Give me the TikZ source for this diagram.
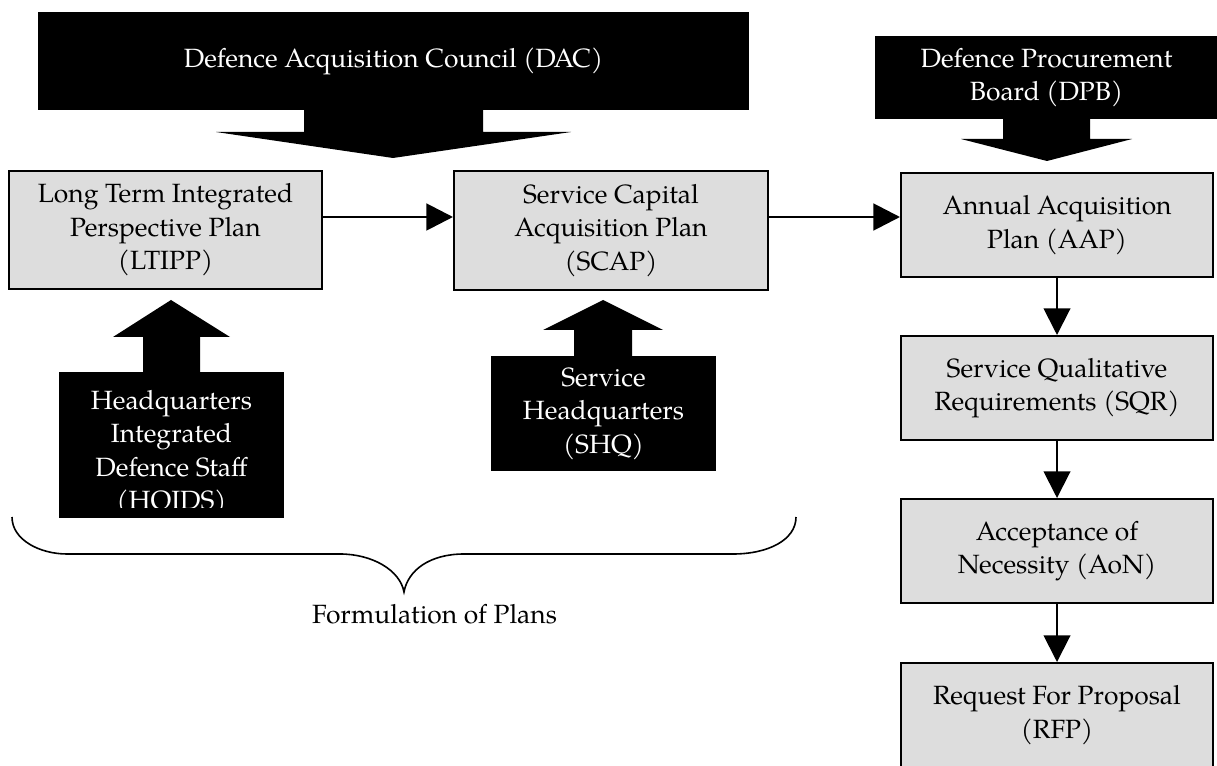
\documentclass[tikz,border=0pt]{standalone}
\usepackage{fontspec}
\setmainfont{TeX Gyre Pagella}
\usetikzlibrary{arrows.meta,calc}
\definecolor{boxgray}{RGB}{221,221,221}
\begin{document}
\begin{tikzpicture}[x=0.75pt,y=-0.75pt,
  txt/.style={font=\fontsize{19.8pt}{25.1pt}\selectfont, align=center},
  plan/.style={txt, draw=black, fill=boxgray, line width=1.5pt, inner sep=0pt},
  org/.style={txt, fill=black, text=white, inner sep=0pt},
  blockarrow/.style={fill=black},
  harr/.style={line width=2.2pt, -{Triangle[length=20pt,width=20pt]}},
  varr/.style={line width=1.5pt, -{Triangle[length=20pt,width=20pt]}},
  bracestyle/.style={line width=1.2pt}
]
\useasboundingbox (0,0) rectangle (1217,766);

% plan boxes
\node[plan, minimum width=234.75pt, minimum height=88.5pt] (ltipp) at (165.5,230) {Long Term Integrated\\Perspective Plan\\(LTIPP)};
\node[plan, minimum width=235.5pt, minimum height=89.25pt] (scap) at (611,230.5) {Service Capital\\Acquisition Plan\\(SCAP)};
\node[plan, minimum width=234pt, minimum height=78pt] (aap) at (1057,225) {Annual Acquisition\\Plan (AAP)};
\node[plan, minimum width=234pt, minimum height=78pt] (sqr) at (1057,388) {Service Qualitative\\Requirements (SQR)};
\node[plan, minimum width=234pt, minimum height=78pt] (aon) at (1057,551) {Acceptance of\\Necessity (AoN)};
\node[plan, minimum width=234pt, minimum height=78pt] (rfp) at (1057,715) {Request For Proposal\\(RFP)};

% organisations (black callouts)
\node[org, minimum width=533.25pt, minimum height=73.5pt] (dac) at (393.5,61) {Defence Acquisition Council (DAC)};
\fill[blockarrow] (304,109) -- (304,132) -- (216,132) -- (393,158) -- (571,132) -- (483,132) -- (483,109) -- cycle;

\node[org, minimum width=257.25pt, minimum height=62.25pt] (dpb) at (1046.5,77.5) {Defence Procurement\\Board (DPB)};
\fill[blockarrow] (1003,118) -- (1003,139) -- (961,139) -- (1047,161) -- (1132,139) -- (1090,139) -- (1090,118) -- cycle;

\node[org, minimum width=168.75pt, minimum height=109.5pt] (hqids) at (171.5,445) {};
\begin{scope}
  \clip (59,372) rectangle (284,507);
  \node[txt, text=white] (hqidstext) at (171.5,453) {Headquarters\\Integrated\\Defence Staff\\(HQIDS)};
\end{scope}
\fill[blockarrow] (143,373) -- (143,337) -- (113,337) -- (171,300) -- (230,337) -- (200,337) -- (200,373) -- cycle;

\node[org, minimum width=168.75pt, minimum height=86.25pt] (shq) at (603.5,413.5) {Service\\Headquarters\\(SHQ)};
\fill[blockarrow] (574,357) -- (574,330) -- (543,330) -- (603,300) -- (663,330) -- (632,330) -- (632,357) -- cycle;

% connectors
\coordinate (hline) at (0,217);
\draw[harr] (ltipp.east |- hline) -- (scap.west |- hline);
\draw[harr] (scap.east |- hline) -- (aap.west |- hline);
\draw[varr] (aap) -- (sqr);
\draw[varr] (sqr) -- (aon);
\draw[varr] (aon) -- (rfp);

% brace
\draw[bracestyle] (12,517) .. controls (12,540) and (40,554) .. (67,554) -- (340,554)
  .. controls (372,554) and (400,570) .. (404,592)
  .. controls (408,570) and (430,554) .. (464,554) -- (733,554)
  .. controls (768,554) and (796,540) .. (796,517);
\node[txt, anchor=base] (formlabel) at (434.5,623) {Formulation of Plans};
\end{tikzpicture}
\end{document}
